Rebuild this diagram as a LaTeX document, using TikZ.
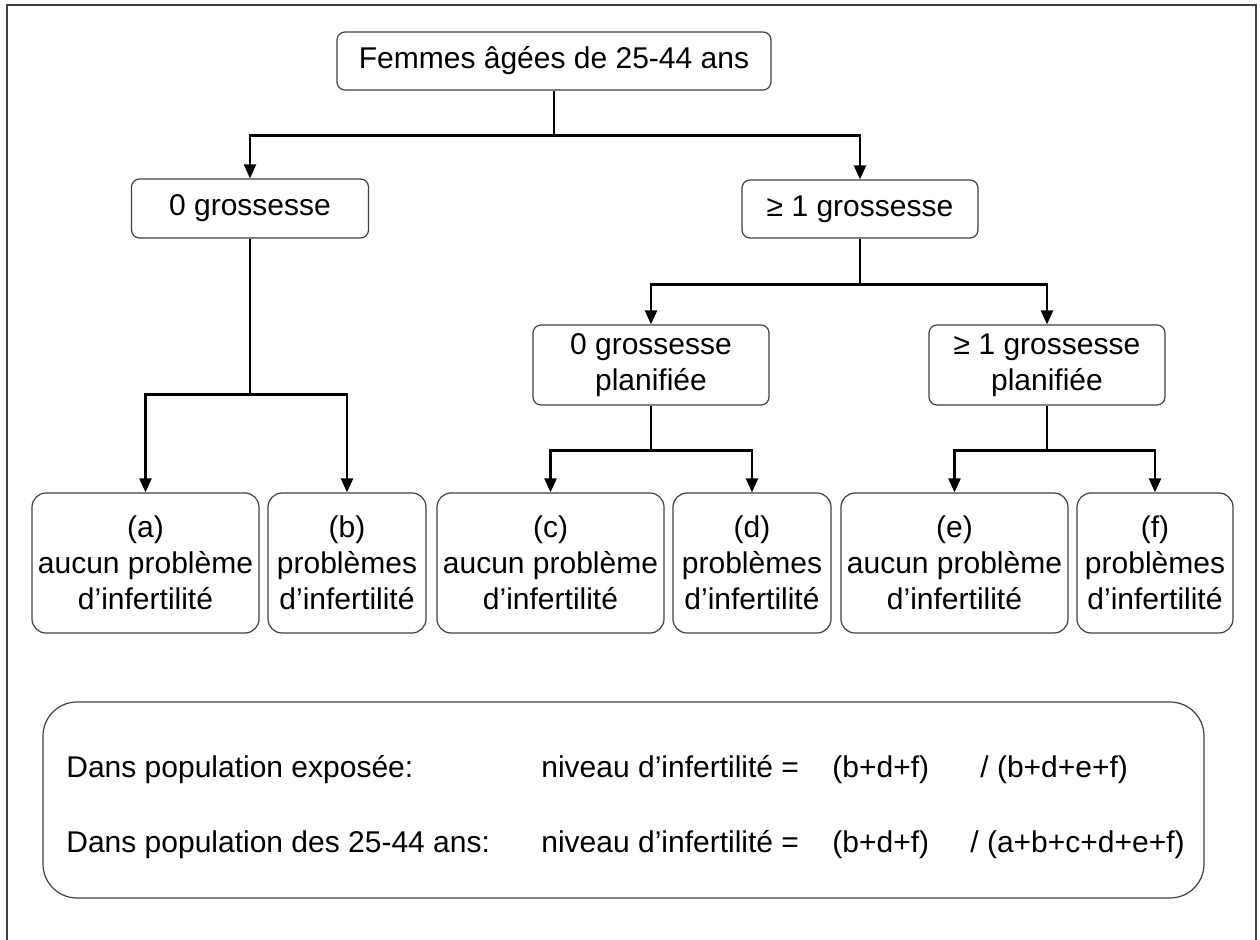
\documentclass[tikz,border=0pt]{standalone}
\usepackage{fontspec}
\setmainfont{Liberation Sans}
\usetikzlibrary{arrows.meta}

\begin{document}
\begin{tikzpicture}[x=0.5pt, y=-0.5pt,
        every node/.style={font=\fontsize{15}{18}\selectfont, inner sep=0pt, align=center},
        box/.style={draw=black!75, line width=0.6pt, rounded corners=4pt},
        leaf/.style={draw=black!75, line width=0.6pt, rounded corners=7pt, minimum height=70pt},
        arr/.style={line width=1.1pt, -{Triangle[length=7pt, width=6pt]}}]
        \useasboundingbox (0,0) rectangle (1260,940);
        \draw[color=black!75, line width=1pt] (7,940) -- (7,5) -- (1256,5) -- (1256,940);
        % arbre
        \node[box, minimum width=217pt, minimum height=29pt] (root) at (554,61) {Femmes âgées de 25-44 ans};
        \node[box, minimum width=118.5pt, minimum height=29.5pt] (g0) at (250,208.5) {0 grossesse};
        \node[box, minimum width=118pt, minimum height=29pt] (g1) at (860,209) {≥ 1 grossesse};
        \node[box, minimum width=118pt, minimum height=40pt] (p0) at (651,365) {0 grossesse\\planifiée};
        \node[box, minimum width=118pt, minimum height=40pt] (p1) at (1047,365) {≥ 1 grossesse\\planifiée};
        \node[leaf, minimum width=113.5pt] (a) at (145.5,563) {(a)\\aucun problème\\d’infertilité};
        \node[leaf, minimum width=79pt] (b) at (347,563) {(b)\\problèmes\\d’infertilité};
        \node[leaf, minimum width=113.5pt] (c) at (550.5,563) {(c)\\aucun problème\\d’infertilité};
        \node[leaf, minimum width=79pt] (d) at (752,563) {(d)\\problèmes\\d’infertilité};
        \node[leaf, minimum width=113.5pt] (e) at (954.5,563) {(e)\\aucun problème\\d’infertilité};
        \node[leaf, minimum width=78pt] (f) at (1155,563) {(f)\\problèmes\\d’infertilité};
        \draw[arr] (root.south) -- ++(0,45) -| (g0.north);
        \draw[arr] (root.south) -- ++(0,45) -| (g1.north);
        \draw[arr] (g0.south) -- ++(0,156) -| (a.north);
        \draw[arr] (g0.south) -- ++(0,156) -| (b.north);
        \draw[arr] (g1.south) -- ++(0,46) -| (p0.north);
        \draw[arr] (g1.south) -- ++(0,46) -| (p1.north);
        \draw[arr] (p0.south) -- ++(0,45) -| (c.north);
        \draw[arr] (p0.south) -- ++(0,45) -| (d.north);
        \draw[arr] (p1.south) -- ++(0,45) -| (e.north);
        \draw[arr] (p1.south) -- ++(0,45) -| (f.north);
        % formules
        \node[draw=black!75, line width=0.6pt, rounded corners=17pt, minimum width=580.5pt, minimum height=98pt] (note) at (623.5,800) {};
        \node[anchor=base west] (pop1) at (66,778) {Dans population exposée:};
        \node[anchor=base west] (niv1) at (541,778) {niveau d’infertilité =};
        \node[anchor=base west] (num1) at (832,778) {(b+d+f)};
        \node[anchor=base west] (den1) at (980,778) {/ (b+d+e+f)};
        \node[anchor=base west] (pop2) at (66,853) {Dans population des 25-44 ans:};
        \node[anchor=base west] (niv2) at (541,853) {niveau d’infertilité =};
        \node[anchor=base west] (num2) at (832,853) {(b+d+f)};
        \node[anchor=base west] (den2) at (970,853) {/ (a+b+c+d+e+f)};
\end{tikzpicture}
\end{document}
